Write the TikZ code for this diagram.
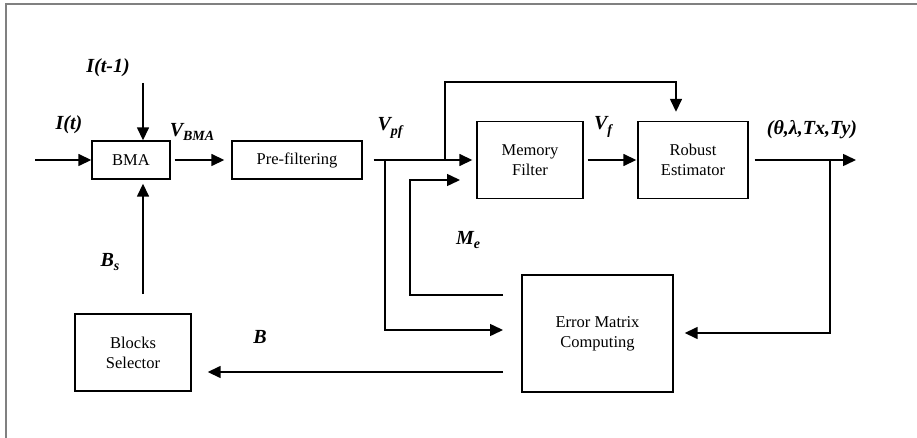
\documentclass[tikz,border=0pt]{standalone}
\usepackage{fontspec}
\setmainfont{Liberation Serif}
\usetikzlibrary{arrows.meta}
\newcommand\mysub[1]{\raisebox{-0.45ex}{\fontsize{14}{14}\selectfont #1}}
\begin{document}
\begin{tikzpicture}[x=1pt,y=-1pt,
  box/.style={draw,line width=1.4pt,inner sep=0pt,align=center,
    font=\fontsize{16.5}{20}\selectfont},
  lab/.style={inner sep=0pt,font=\fontsize{20}{22}\selectfont\bfseries\itshape},
  conn/.style={line width=1.5pt},
  arr/.style={conn,-{Triangle[length=13pt,width=12pt]}},
  frame/.style={draw=gray,line width=1.5pt}]
\useasboundingbox (0,0) rectangle (917,438);
\draw[frame] (6,438) -- (6,4) -- (917,4);

% boxes
\node[box,minimum width=78pt,minimum height=38pt] (bma) at (131,160) {BMA};
\node[box,minimum width=130pt,minimum height=38pt] (pre) at (297,160) {Pre-filtering};
\node[box,minimum width=106pt,minimum height=77pt] (mem) at (530,160) {Memory\\Filter};
\node[box,minimum width=110pt,minimum height=77pt] (rob) at (693,160) {Robust\\Estimator};
\node[box,minimum width=151pt,minimum height=117pt] (err) at (597.5,333.5) {Error Matrix\\Computing};
\node[box,minimum width=116pt,minimum height=77pt] (sel) at (133,352.5) {Blocks\\Selector};

% coordinates
\coordinate (in) at (35,160);
\coordinate (prev) at (143,83);
\coordinate (sp1) at (385,160);
\coordinate (sp2) at (445,160);
\coordinate (topR) at (676,82);
\coordinate (out) at (856,160);
\coordinate (sp3) at (830,160);
\coordinate (vpfE) at (503,330);
\coordinate (meS) at (503,295);
\coordinate (meC) at (410,180);
\coordinate (meE) at (460,180);
\coordinate (bS) at (503,372);
\coordinate (bsS) at (143,294);

% connectors
\draw[arr] (in) -- (bma.west);
\draw[arr] (prev) -- (prev |- bma.north);
\draw[arr,shorten <=4pt,shorten >=7pt] (bma) -- (pre);
\draw[arr,shorten <=11pt,shorten >=4pt] (pre.east) -- (mem.west);
\draw[arr,shorten >=9pt] (sp2) |- (topR) -- (topR |- rob.north);
\draw[arr] (sp1) |- (vpfE);
\draw[arr] (meS) -| (meC) -- (meE);
\draw[arr,shorten <=4pt,shorten >=1pt] (mem) -- (rob);
\draw[arr,shorten <=6pt] (rob.east) -- (out);
\draw[arr,shorten >=11pt] (sp3) |- (err.east |- 0,333);
\draw[arr,shorten >=16pt] (bS) -- (bS -| sel.east);
\draw[arr,shorten >=4pt] (bsS) -- (bsS |- bma.south);

% labels
\node[lab] (lit) at (69,125) {I(t)};
\node[lab] (litm) at (108,68) {I(t-1)};
\node[lab] (lvbma) at (192,132) {V\mysub{BMA}};
\node[lab] (lvpf) at (390,128) {V\mysub{pf}};
\node[lab] (lvf) at (603,127) {V\mysub{f}};
\node[lab] (lme) at (468,240) {M\mysub{e}};
\node[lab] (lbs) at (110,262) {B\mysub{s}};
\node[lab] (lb) at (260,337) {B};
\node[lab] (lout) at (812,130) {(θ,λ,Tx,Ty)};
\end{tikzpicture}
\end{document}
